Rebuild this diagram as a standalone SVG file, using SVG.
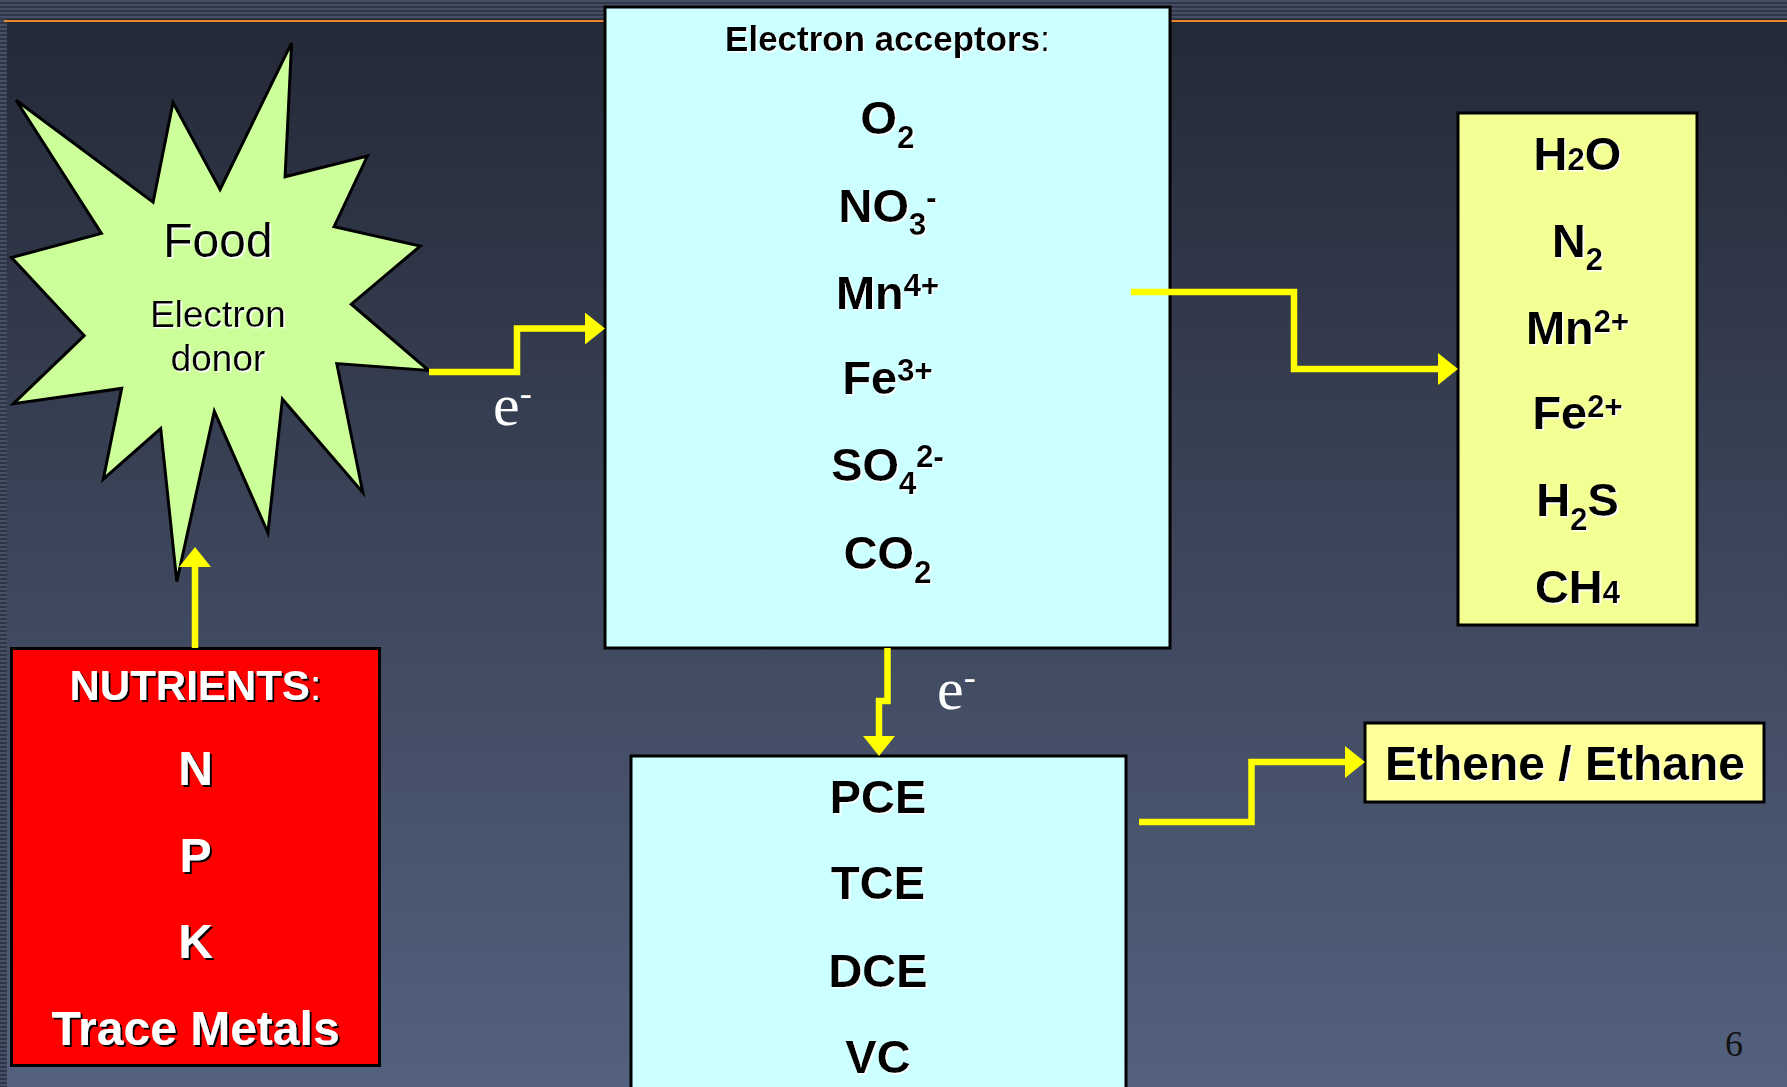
<svg xmlns="http://www.w3.org/2000/svg" width="1787" height="1087" viewBox="0 0 1787 1087">
<defs>
<linearGradient id="bg" x1="0" y1="0" x2="0" y2="1">
<stop offset="0" stop-color="#232835"/>
<stop offset="1" stop-color="#54617e"/>
</linearGradient>
<pattern id="stripes" width="8" height="4" patternUnits="userSpaceOnUse">
<rect width="8" height="4" fill="#2f3646"/>
<rect width="8" height="2" fill="#454f66"/>
</pattern>
<marker id="ah" viewBox="0 0 20 32" refX="0" refY="16" markerWidth="20" markerHeight="32" orient="auto" markerUnits="userSpaceOnUse">
<path d="M0,0 L20,16 L0,32 z" fill="#ffff00"/>
</marker>
<filter id="ws" x="-5%" y="-20%" width="110%" height="140%">
<feDropShadow dx="1.5" dy="1.5" stdDeviation="0" flood-color="#ffffff" flood-opacity="1"/>
</filter>
<filter id="ks" x="-5%" y="-20%" width="110%" height="140%">
<feDropShadow dx="2" dy="2" stdDeviation="0" flood-color="#000000" flood-opacity="1"/>
</filter>
</defs>
<style>
.box{stroke:#000;stroke-width:3}
.t{font-family:"Liberation Sans",Arial,sans-serif;font-weight:bold;font-size:47px;fill:#000;text-anchor:middle}
.w{fill:#fff}
.s{font-size:31px}
.conn{fill:none;stroke:#ffff00;stroke-width:6.5;stroke-linejoin:miter;stroke-linecap:butt}
.e{font-family:"Liberation Serif","Times New Roman",serif;font-size:60px;fill:#fff}
</style>

<rect width="1787" height="1087" fill="url(#bg)"/>
<rect x="0" y="0" width="1787" height="19" fill="url(#stripes)"/>
<rect x="0" y="19" width="7" height="1068" fill="url(#stripes)"/>
<line x1="4" y1="21" x2="1787" y2="21" stroke="#e8862f" stroke-width="2"/>

<g id="food">
<polygon points="291.6,42.9 285.1,176.8 367.4,156.1 334.1,226.6 420.2,246.1 351.3,304.2 428.6,370.4 336.8,363.6 362.8,492.5 282.4,399.2 267.9,532.7 214.3,411.4 176.8,581.7 160.7,428.6 103.3,479.1 121.7,388.4 13.4,403.7 84.2,335.6 11.5,257.6 101.4,233.4 16.1,100.3 153.1,202.1 173.0,102.6 220.1,189.4" fill="#ccff99" stroke="#000" stroke-width="3" stroke-linejoin="miter"/>
<g filter="url(#ws)" font-family="Liberation Sans, Arial, sans-serif" fill="#000" text-anchor="middle">
<text x="218" y="257" font-size="48">Food</text>
<text x="218" y="327" font-size="37">Electron</text>
<text x="218" y="371" font-size="37">donor</text>
</g>
</g>

<g id="acceptors">
<rect class="box" x="605" y="7" width="565" height="641" fill="#ccffff"/>
<g filter="url(#ws)">
<text class="t" x="887.5" y="51" style="font-size:35px">Electron acceptors<tspan font-weight="normal">:</tspan></text>
<text class="t" x="887.5" y="134">O<tspan class="s" dy="14">2</tspan></text>
<text class="t" x="887.5" y="222">NO<tspan class="s" dy="13">3</tspan><tspan class="s" dy="-27">-</tspan></text>
<text class="t" x="887.5" y="309">Mn<tspan class="s" dy="-13">4+</tspan></text>
<text class="t" x="887.5" y="394">Fe<tspan class="s" dy="-13">3+</tspan></text>
<text class="t" x="887.5" y="481">SO<tspan class="s" dy="13">4</tspan><tspan class="s" dy="-27">2-</tspan></text>
<text class="t" x="887.5" y="569">CO<tspan class="s" dy="14">2</tspan></text>
</g>
</g>

<g id="products">
<rect class="box" x="1458" y="113" width="239" height="512" fill="#f3ff93"/>
<g filter="url(#ws)">
<text class="t" x="1577.5" y="170">H<tspan class="s">2</tspan>O</text>
<text class="t" x="1577.5" y="257">N<tspan class="s" dy="13">2</tspan></text>
<text class="t" x="1577.5" y="344">Mn<tspan class="s" dy="-12">2+</tspan></text>
<text class="t" x="1577.5" y="429">Fe<tspan class="s" dy="-12">2+</tspan></text>
<text class="t" x="1577.5" y="516">H<tspan class="s" dy="14">2</tspan><tspan dy="-14">S</tspan></text>
<text class="t" x="1577.5" y="603">CH<tspan class="s">4</tspan></text>
</g>
</g>

<g id="chlorinated">
<rect class="box" x="631" y="756" width="495" height="345" fill="#ccffff"/>
<g filter="url(#ws)">
<text class="t" x="878" y="813">PCE</text>
<text class="t" x="878" y="899">TCE</text>
<text class="t" x="878" y="987">DCE</text>
<text class="t" x="878" y="1073">VC</text>
</g>
</g>

<g id="ethene">
<rect class="box" x="1365" y="723" width="399" height="79" fill="#ffff99"/>
<text class="t" x="1565" y="780" filter="url(#ws)" style="font-size:48px">Ethene / Ethane</text>
</g>

<g id="nutrients">
<rect class="box" x="11.5" y="648.5" width="368" height="417" fill="#ff0000"/>
<g filter="url(#ks)">
<text class="t w" x="195.5" y="700" style="font-size:42px">NUTRIENTS<tspan font-weight="normal">:</tspan></text>
<text class="t w" x="195.5" y="785" style="font-size:48px">N</text>
<text class="t w" x="195.5" y="872" style="font-size:48px">P</text>
<text class="t w" x="195.5" y="958" style="font-size:48px">K</text>
<text class="t w" x="195.5" y="1045" style="font-size:48px">Trace Metals</text>
</g>
</g>

<g id="connectors">
<path class="conn" d="M429,372 H517 V328.5 H585" marker-end="url(#ah)"/>
<path class="conn" d="M1131,292 H1294 V369 H1438" marker-end="url(#ah)"/>
<path class="conn" d="M887.5,648 V701 H879 V736" marker-end="url(#ah)"/>
<path class="conn" d="M1139,822 H1251.5 V762 H1345" marker-end="url(#ah)"/>
<path class="conn" d="M195,648 V567" marker-end="url(#ah)"/>
</g>

<text class="e" x="493" y="425">e<tspan font-size="36" dy="-20">-</tspan></text>
<text class="e" x="937" y="709">e<tspan font-size="36" dy="-20">-</tspan></text>
<text x="1725" y="1056" font-family="Liberation Serif, Times New Roman, serif" font-size="36" fill="#111">6</text>
</svg>
